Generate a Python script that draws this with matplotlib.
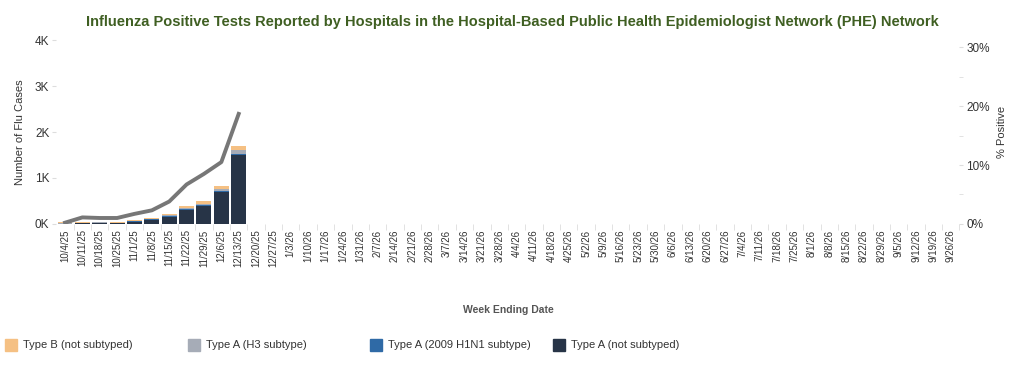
import numpy as np
import matplotlib.pyplot as plt
from matplotlib.patches import Rectangle

plt.rcParams['font.family'] = ['Liberation Sans', 'DejaVu Sans']

weeks = ['10/4/25', '10/11/25', '10/18/25', '10/25/25', '11/1/25', '11/8/25', '11/15/25',
         '11/22/25', '11/29/25', '12/6/25', '12/13/25', '12/20/25', '12/27/25', '1/3/26',
         '1/10/26', '1/17/26', '1/24/26', '1/31/26', '2/7/26', '2/14/26', '2/21/26',
         '2/28/26', '3/7/26', '3/14/26', '3/21/26', '3/28/26', '4/4/26', '4/11/26',
         '4/18/26', '4/25/26', '5/2/26', '5/9/26', '5/16/26', '5/23/26', '5/30/26',
         '6/6/26', '6/13/26', '6/20/26', '6/27/26', '7/4/26', '7/11/26', '7/18/26',
         '7/25/26', '8/1/26', '8/8/26', '8/15/26', '8/22/26', '8/29/26', '9/5/26',
         '9/12/26', '9/19/26', '9/26/26']

# weeks with data so far
a_not_subtyped = [5, 15, 10, 20, 50, 95, 160, 310, 400, 700, 1500]
a_h1n1 = [2, 5, 12, 3, 5, 5, 10, 10, 15, 20, 20]
a_h3 = [3, 6, 8, 5, 5, 10, 20, 25, 25, 50, 90]
b_not_subtyped = [20, 8, 5, 8, 15, 12, 20, 35, 60, 55, 90]
pct_positive = [0.2, 1.1, 1.0, 1.0, 1.7, 2.3, 3.8, 6.7, 8.5, 10.5, 18.7]

series = [('Type A (not subtyped)', a_not_subtyped, '#273447'),
          ('Type A (2009 H1N1 subtype)', a_h1n1, '#2f6aa6'),
          ('Type A (H3 subtype)', a_h3, '#a6acb7'),
          ('Type B (not subtyped)', b_not_subtyped, '#f5c083')]

fig = plt.figure(figsize=(10.24, 3.67), dpi=100)
ax = fig.add_axes([0.055, 0.39, 0.882, 0.50])
ax2 = ax.twinx()

x = np.arange(len(a_not_subtyped))
bottom = np.zeros(len(x))
for name, vals, col in series:
    ax.bar(x, vals, 0.86, bottom=bottom, color=col, label=name)
    bottom += np.array(vals)

ax2.plot(x, pct_positive, color='#777777', lw=2.8, solid_joinstyle='round')

ax.set_xlim(-0.5, len(weeks) - 0.5)
ax.set_ylim(0, 4000)
ax2.set_ylim(0, 31.2)

ax.set_xticks(np.arange(len(weeks)))
ax.set_xticklabels(weeks, rotation=90, fontsize=7, color='#333333')
ax.set_xticks(np.arange(len(weeks)) + 0.5, minor=True)
ax.tick_params(axis='x', which='major', length=0, pad=4)
ax.tick_params(axis='x', which='minor', length=4, color='#dddddd')

ax.set_yticks([0, 1000, 2000, 3000, 4000])
ax.set_yticklabels(['0K', '1K', '2K', '3K', '4K'], fontsize=8.5, color='#333333')
ax.tick_params(axis='y', length=3, color='#dddddd', pad=2)
ax2.set_yticks([0, 10, 20, 30])
ax2.set_yticklabels(['0%', '10%', '20%', '30%'], fontsize=8.5, color='#333333')
ax2.set_yticks([5, 15, 25], minor=True)
ax2.tick_params(axis='y', which='both', length=3, color='#dddddd', pad=2)

for a in (ax, ax2):
    for s in a.spines.values():
        s.set_visible(False)

ax.set_ylabel('Number of Flu Cases', fontsize=8, color='#333333', labelpad=7)
ax2.set_ylabel('% Positive', fontsize=8, color='#333333', labelpad=5)
ax.set_xlabel('Week Ending Date', fontsize=7.5, fontweight='bold', color='#555555', labelpad=27)

fig.text(0.5, 0.94, 'Influenza Positive Tests Reported by Hospitals in the Hospital-Based Public Health '
         'Epidemiologist Network (PHE) Network', ha='center', va='center', fontsize=10.5,
         fontweight='bold', color='#3f5f22')

# legend
leg_x = [5, 188, 370, 553]
for (name, vals, col), lx in zip(series[::-1], leg_x):
    fig.patches.append(Rectangle((lx / 1024, (367 - 351) / 367), 12 / 1024, 12 / 367,
                                 transform=fig.transFigure, color=col))
    fig.text((lx + 18) / 1024, (367 - 345) / 367, name, fontsize=8, color='#333333',
             va='center', ha='left')

fig.savefig('out.png', dpi=100)
